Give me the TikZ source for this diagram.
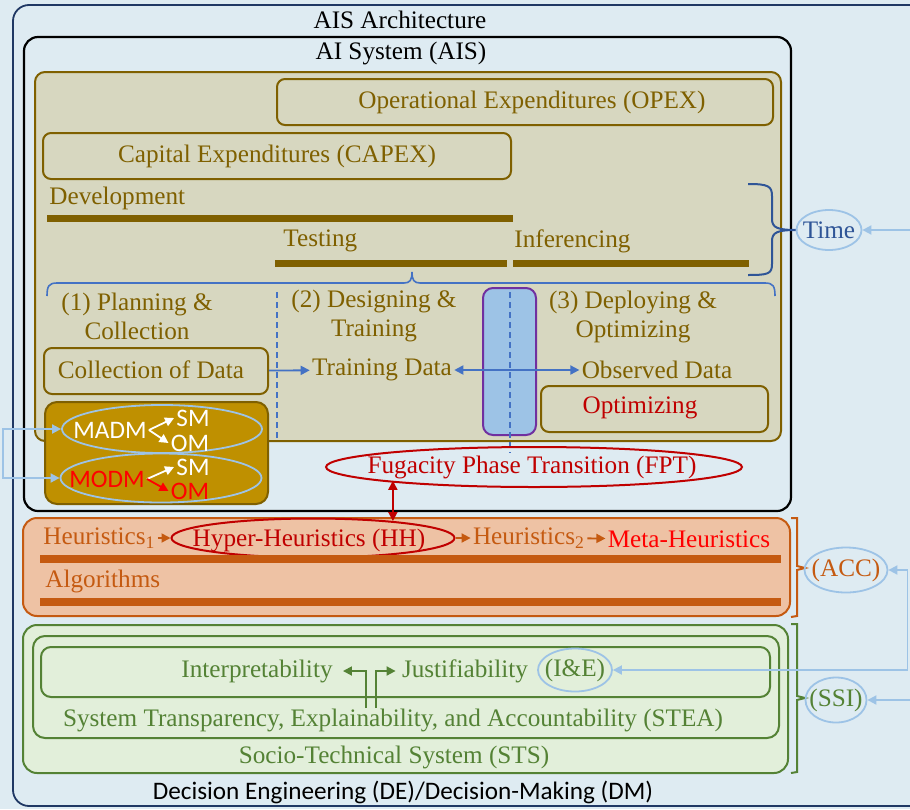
\documentclass[tikz,border=0pt]{standalone}
\usepackage{fontspec}
\setmainfont{Liberation Serif}
\setsansfont{Carlito}
\usetikzlibrary{shapes.geometric,arrows.meta,fit}

\definecolor{bgblue}{HTML}{DEEBF2}
\definecolor{navy}{HTML}{203864}
\definecolor{khaki}{HTML}{D7D7C0}
\definecolor{umber}{HTML}{7F6000}
\definecolor{gold}{HTML}{BF9000}
\definecolor{peach}{HTML}{EEC2A4}
\definecolor{rust}{HTML}{C55A11}
\definecolor{sage}{HTML}{E2EFDA}
\definecolor{leaf}{HTML}{548235}
\definecolor{sky}{HTML}{9DC3E6}
\definecolor{midblue}{HTML}{4472C4}
\definecolor{deepblue}{HTML}{2F5597}
\definecolor{darkred}{HTML}{C00000}
\definecolor{plum}{HTML}{7030A0}

\tikzset{
	lbl/.style={font=\fontsize{12.6}{14.5}\selectfont, inner sep=1pt},
	slbl/.style={font=\sffamily\fontsize{12.6}{14.5}\selectfont, inner sep=1pt},
	ubox/.style={draw=umber, line width=1pt, rounded corners=4pt, inner sep=0pt},
	oval/.style={ellipse, draw=sky, line width=0.9pt, inner sep=0pt},
	redoval/.style={ellipse, draw=darkred, line width=1pt, inner sep=0pt},
	devbar/.style={umber, line width=3.5pt},
	algbar/.style={rust, line width=3.8pt},
	arr/.style={line width=0.9pt, -{Triangle[length=4.5pt,width=4.5pt]}},
	darr/.style={line width=0.9pt, {Triangle[length=4.5pt,width=4.5pt]}-{Triangle[length=4.5pt,width=4.5pt]}},
	dashes/.style={midblue, line width=0.8pt, dash pattern=on 3pt off 2pt},
}

\begin{document}
\begin{tikzpicture}[x=0.5pt,y=-0.5pt]
	\useasboundingbox (0,0) rectangle (910,809);
	\fill[bgblue] (0,0) rectangle (910,809);
	\draw[navy, line width=0.9pt, rounded corners=8pt] (13,5) rectangle (950,806);
	\node[lbl] (arch) at (400,20) {AIS Architecture};

	\draw[line width=1.1pt, rounded corners=7pt] (24,37) rectangle (791,511);
	\node[lbl] (aisys) at (401,53) {AI System (AIS)};

	\draw[umber, fill=khaki, line width=1pt, rounded corners=5pt] (35,72) rectangle (781,441);
	\node[ubox, fit={(277,79) (773,125)}] (opex) {};
	\node[lbl, text=umber] (opextxt) at (532,102) {Operational Expenditures (OPEX)};
	\node[ubox, fit={(43,133) (511,179)}] (capex) {};
	\node[lbl, text=umber] (capextxt) at (capex) {Capital Expenditures (CAPEX)};
	\node[lbl, text=umber, anchor=west] (dev) at (47,198) {Development};
	\draw[devbar] (47,218) -- (513,218);
	\node[lbl, text=umber, anchor=west] (test) at (281,241) {Testing};
	\draw[devbar] (275,263) -- (507,263);
	\node[lbl, text=umber, anchor=west] (infer) at (512,241) {Inferencing};
	\draw[devbar] (513,263) -- (749,263);

	\draw[deepblue, line width=1pt] (748,184) .. controls (768,184) and (772,186) .. (772,196) -- (772,219) .. controls (772,228) and (778,230) .. (797,230)
		.. controls (778,230) and (772,232) .. (772,241) -- (772,264) .. controls (772,274) and (768,275) .. (748,275);
	\node[oval, minimum width=32.5pt, minimum height=20pt] (time) at (829,230) {};
	\node[lbl, text=deepblue] (timetxt) at (time) {Time};
	\coordinate (timein) at (910,230);
	\draw[arr, sky] (timein) -- (time);

	\draw[midblue, line width=0.8pt] (47,296) .. controls (47,286) and (49,283) .. (57,283) -- (404,283) .. controls (410,283) and (412,280) .. (412,272)
		.. controls (412,280) and (414,283) .. (420,283) -- (765,283) .. controls (773,283) and (775,286) .. (775,296);
	\draw[dashes] (277,292) -- (277,440);
	\node[lbl, text=umber, align=center] (plan) at (137,316) {(1) Planning \&\\Collection};
	\node[lbl, text=umber, align=center] (design) at (374,316) {(2) Designing \&\\Training};
	\node[lbl, text=umber, align=center] (deploy) at (633,317) {(3) Deploying \&\\Optimizing};
	\node[ubox, fit={(44,348) (268,394)}] (coll) {};
	\node[lbl, text=umber] (colltxt) at (151,370) {Collection of Data};
	\node[lbl, text=umber] (train) at (382,370) {Training Data};
	\node[lbl, text=umber] (observed) at (657,370) {Observed Data};
	\node[ubox, fit={(541,386) (768,432)}] (optim) {};
	\node[lbl, text=darkred] (optimtxt) at (640,408) {Optimizing};
	\draw[plum, fill=sky, line width=1pt, rounded corners=5pt] (483,288) rectangle (536,435);
	\draw[dashes] (510,292) -- (510,453);
	\draw[arr, midblue] (coll) -- (train);
	\draw[darr, midblue] (train) -- (observed);

	\draw[umber, fill=gold, line width=1pt, rounded corners=6pt] (45,402) rectangle (268,504);
	\node[oval, minimum width=100pt, minimum height=24pt] (madmov) at (162,429) {};
	\node[oval, minimum width=100.5pt, minimum height=24.5pt] (modmov) at (161,478) {};
	\node[slbl, text=white] (madm) at (110,430) {MADM};
	\node[slbl, text=white] (sma) at (193,418) {SM};
	\node[slbl, text=white] (oma) at (190,443) {OM};
	\node[slbl, text=red] (modm) at (107,479) {MODM};
	\node[slbl, text=white] (smb) at (193,467) {SM};
	\node[slbl, text=red] (omb) at (190,491) {OM};
	\draw[arr, white] (madm.east) -- (sma.west);
	\draw[arr, white] (madm.east) -- (oma.west);
	\draw[arr, white] (modm.east) -- (smb.west);
	\draw[arr, red] (modm.east) -- (omb.west);
	\draw[darr, sky] (madmov.west) -- ++(-58,0) |- (modmov.west);

	\node[redoval, minimum width=208pt, minimum height=20pt] (fpt) at (534,467) {};
	\node[lbl, text=darkred] (fpttxt) at (532,467) {Fugacity Phase Transition (FPT)};

	\draw[rust, fill=peach, line width=1pt, rounded corners=7pt] (23,518) rectangle (790,616);
	\node[lbl, text=rust, anchor=west] (heura) at (41,538) {Heuristics\textsubscript{1}};
	\node[redoval, minimum width=141.5pt, minimum height=19.5pt] (hh) at (313,538) {};
	\node[lbl, text=darkred] (hhtxt) at (309,540) {Hyper-Heuristics (HH)};
	\node[lbl, text=rust] (heurb) at (529,538) {Heuristics\textsubscript{2}};
	\node[lbl, text=red] (meta) at (689,539) {Meta-Heuristics};
	\draw[arr, rust] (heura) -- (hh);
	\draw[arr, rust] (hh) -- (heurb);
	\draw[arr, rust] (heurb) -- (meta);
	\draw[darr, darkred] (hh.12.65) -- (hh.12.65 |- fpt.185.5);
	\draw[algbar] (40,559) -- (781,559);
	\node[lbl, text=rust, anchor=west] (algo) at (43,581) {Algorithms};
	\draw[algbar] (40,602) -- (781,602);

	\draw[rust, line width=1pt] (791,518) -- (797,518) -- (797,566) -- (805,568) -- (797,570) -- (797,616) -- (791,617);
	\node[oval, minimum width=41.5pt, minimum height=22.5pt] (acc) at (846,570) {};
	\node[lbl, text=rust] (acctxt) at (acc) {(ACC)};

	\draw[leaf, fill=sage, line width=1pt, rounded corners=7pt] (23,625) rectangle (788,773);
	\draw[leaf, line width=1pt, rounded corners=6pt] (33,636) rectangle (779,738);
	\draw[leaf, line width=1pt, rounded corners=5pt] (41,647) rectangle (770,697);
	\node[lbl, text=leaf] (interp) at (257,671) {Interpretability};
	\node[lbl, text=leaf] (justif) at (465,671) {Justifiability};
	\node[oval, minimum width=37pt, minimum height=21.5pt] (ie) at (575,670) {};
	\node[lbl, text=leaf] (ietxt) at (ie) {(I\&E)};
	\node[lbl, text=leaf] (stea) at (393,720) {System Transparency, Explainability, and Accountability (STEA)};
	\node[lbl, text=leaf] (sts) at (394,757) {Socio-Technical System (STS)};
	\coordinate (forkl) at (366,708);
	\coordinate (forkr) at (376,708);
	\draw[arr, leaf] (forkl) |- ([xshift=4pt]interp.east);
	\draw[arr, leaf] (forkr) |- ([xshift=-2pt]justif.west);

	\draw[leaf, line width=1pt] (791,624) -- (797,624) -- (797,696) -- (805,698) -- (797,700) -- (797,772) -- (791,773);
	\node[oval, minimum width=30.5pt, minimum height=22.5pt] (ssi) at (836,700) {};
	\node[lbl, text=leaf] (ssitxt) at (ssi) {(SSI)};
	\coordinate (ssiin) at (910,700);
	\draw[arr, sky] (ssiin) -- (ssi);
	\draw[darr, sky] (acc.east) -- ++(19,0) |- (ie.east);

	\node[slbl] (de) at (403,792) {Decision Engineering (DE)/Decision-Making (DM)};
\end{tikzpicture}
\end{document}
